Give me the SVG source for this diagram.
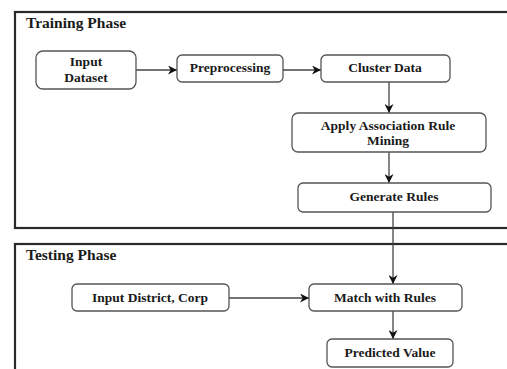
<svg xmlns="http://www.w3.org/2000/svg" width="507" height="369" viewBox="0 0 507 369">
<defs>
<style>
.frame{fill:none;stroke:#2a2a2a;stroke-width:2.2}
.box{fill:#fff;stroke:#555;stroke-width:1.3}
.t{font-family:"Liberation Serif","Times New Roman",serif;font-weight:bold;font-size:13.5px;fill:#1a1a1a;text-anchor:middle}
.h{font-family:"Liberation Serif","Times New Roman",serif;font-weight:bold;font-size:15.5px;fill:#1a1a1a}
.c{fill:none;stroke:#444;stroke-width:1.3}
</style>
<marker id="ah" viewBox="0 0 10 10" refX="10" refY="5" markerWidth="9" markerHeight="9" markerUnits="userSpaceOnUse" orient="auto">
<path d="M0,0 L10,5 L0,10 L3,5 z" fill="#111"/>
</marker>
</defs>
<rect width="507" height="369" fill="#fff"/>
<g id="training-phase">
<rect class="frame" x="15" y="12" width="500" height="216"/>
<text class="h" x="26" y="28">Training Phase</text>
</g>
<g id="testing-phase">
<rect class="frame" x="15" y="244" width="500" height="140"/>
<text class="h" x="26" y="260">Testing Phase</text>
</g>
<g id="connectors">
<line class="c" x1="136" y1="70" x2="177" y2="70" marker-end="url(#ah)"/>
<line class="c" x1="283" y1="70" x2="321" y2="70" marker-end="url(#ah)"/>
<line class="c" x1="389" y1="82" x2="389" y2="113" marker-end="url(#ah)"/>
<line class="c" x1="389" y1="152" x2="389" y2="183" marker-end="url(#ah)"/>
<line class="c" x1="393" y1="212" x2="393" y2="284" marker-end="url(#ah)"/>
<line class="c" x1="229" y1="298" x2="309" y2="298" marker-end="url(#ah)"/>
<line class="c" x1="393" y1="311" x2="393" y2="339" marker-end="url(#ah)"/>
</g>
<g id="input-dataset">
<rect class="box" x="36" y="51" width="100" height="38" rx="7"/>
<text class="t" x="86" y="66">Input</text>
<text class="t" x="86" y="82">Dataset</text>
</g>
<g id="preprocessing">
<rect class="box" x="177" y="55" width="106" height="27" rx="5"/>
<text class="t" x="230" y="72">Preprocessing</text>
</g>
<g id="cluster-data">
<rect class="box" x="321" y="55" width="129" height="27" rx="5"/>
<text class="t" x="385" y="72">Cluster Data</text>
</g>
<g id="apply-arm">
<rect class="box" x="292" y="113" width="194" height="39" rx="6"/>
<text class="t" x="388" y="130">Apply Association Rule</text>
<text class="t" x="388" y="145">Mining</text>
</g>
<g id="generate-rules">
<rect class="box" x="298" y="183" width="193" height="29" rx="5"/>
<text class="t" x="394" y="201">Generate Rules</text>
</g>
<g id="input-district">
<rect class="box" x="72" y="284" width="157" height="27" rx="5"/>
<text class="t" x="150" y="302">Input District, Corp</text>
</g>
<g id="match-rules">
<rect class="box" x="309" y="284" width="153" height="27" rx="5"/>
<text class="t" x="385" y="302">Match with Rules</text>
</g>
<g id="predicted-value">
<rect class="box" x="327" y="339" width="126" height="28" rx="5"/>
<text class="t" x="390" y="357">Predicted Value</text>
</g>
</svg>
